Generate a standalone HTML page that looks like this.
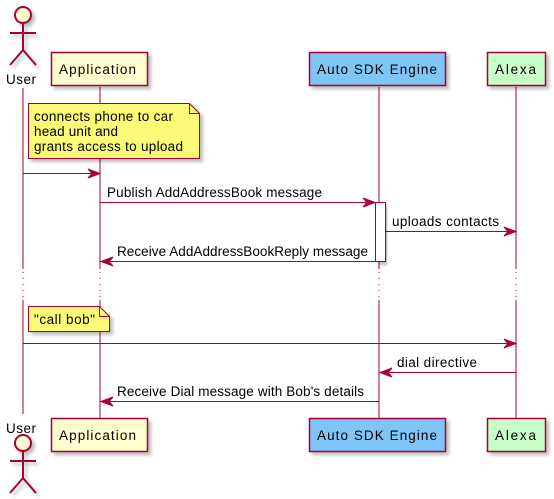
<!DOCTYPE html>
<html><head><style>body{margin:0;background:#fff}svg{display:block}text{font-family:"Liberation Sans",sans-serif;font-size:13.5px;fill:#000}</style></head>
<body>
<svg width="554" height="499" viewBox="0 0 554 499" xmlns="http://www.w3.org/2000/svg">
<defs>
<filter id="sh" x="-10%" y="-10%" width="130%" height="140%"><feDropShadow dx="3" dy="3" stdDeviation="1.5" flood-color="#000" flood-opacity="0.25"/></filter>
</defs>
<g stroke="#A80036" stroke-width="1">
<line x1="23" y1="88" x2="23" y2="269"/><line x1="23" y1="300" x2="23" y2="414" />
<line x1="100" y1="87" x2="100" y2="269"/><line x1="100" y1="300" x2="100" y2="418"/>
<line x1="379" y1="87" x2="379" y2="269"/><line x1="379" y1="300" x2="379" y2="418"/>
<line x1="516" y1="87" x2="516" y2="269"/><line x1="516" y1="300" x2="516" y2="418"/>
<g stroke-dasharray="1,5"><line x1="23" y1="272" x2="23" y2="300"/><line x1="100" y1="272" x2="100" y2="300"/><line x1="379" y1="272" x2="379" y2="300"/><line x1="516" y1="272" x2="516" y2="300"/></g>
</g>
<g stroke="#A80036" stroke-width="2" fill="#FEFECE" filter="url(#sh)">
<circle cx="23" cy="15" r="8"/><line x1="23" y1="23" x2="23" y2="50"/><line x1="10" y1="33" x2="36" y2="33"/><polyline fill="none" points="10,65 23,50 36,65"/>
<circle cx="23" cy="443" r="8"/><line x1="23" y1="451" x2="23" y2="478"/><line x1="10" y1="461" x2="36" y2="461"/><polyline fill="none" points="10,493 23,478 36,493"/>
</g>
<text x="6" y="84" textLength="30">User</text><text x="6" y="433" textLength="30">User</text>
<g stroke="#A80036" stroke-width="1.5" filter="url(#sh)">
<rect x="51.5" y="52.5" width="96" height="33" fill="#FEFECE"/>
<rect x="309.5" y="52.5" width="136" height="33" fill="#7FC5F5"/>
<rect x="487.5" y="52.5" width="58" height="33" fill="#C8FFC8"/>
<rect x="51.5" y="418.5" width="96" height="33" fill="#FEFECE"/>
<rect x="309.5" y="418.5" width="136" height="33" fill="#7FC5F5"/>
<rect x="487.5" y="418.5" width="58" height="33" fill="#C8FFC8"/>
</g>
<text x="59" y="74" textLength="77">Application</text><text x="317" y="74" textLength="120">Auto SDK Engine</text><text x="495" y="74" textLength="41">Alexa</text>
<text x="59" y="440" textLength="77">Application</text><text x="317" y="440" textLength="120">Auto SDK Engine</text><text x="495" y="440" textLength="41">Alexa</text>
<g stroke="#A80036" stroke-width="1" fill="#FBFB77">
<path d="M28.5 103.5 H189.5 L199.5 113.5 V158.5 H28.5 Z" filter="url(#sh)"/>
<path d="M189.5 103.5 V113.5 H199.5" fill="none"/>
<path d="M28.5 306.5 H99.5 L109.5 316.5 V331.5 H28.5 Z" filter="url(#sh)"/>
<path d="M99.5 306.5 V316.5 H109.5" fill="none"/>
</g>
<text x="34" y="121" textLength="139">connects phone to car</text><text x="34" y="136" textLength="84">head unit and</text><text x="34" y="151" textLength="149">grants access to upload</text>
<text x="34" y="324" textLength="61">"call bob"</text>
<rect x="375.5" y="202.5" width="10" height="59" fill="#fff" stroke="#A80036" filter="url(#sh)"/>
<g stroke="#A80036" stroke-width="1" fill="#A80036">
<line x1="23" y1="173.5" x2="98" y2="173.5"/><path d="M100 173.5 L88 169 L92 173.5 L88 178 Z"/>
<line x1="100" y1="202.5" x2="373" y2="202.5"/><path d="M375 202.5 L363 198 L367 202.5 L363 207 Z"/>
<line x1="386" y1="231.5" x2="514" y2="231.5"/><path d="M516 231.5 L504 227 L508 231.5 L504 236 Z"/>
<line x1="102" y1="261.5" x2="375" y2="261.5"/><path d="M101 261.5 L113 257 L109 261.5 L113 266 Z"/>
<line x1="23" y1="343.5" x2="514" y2="343.5"/><path d="M516 343.5 L504 339 L508 343.5 L504 348 Z"/>
<line x1="381" y1="372.5" x2="516" y2="372.5"/><path d="M380 372.5 L392 368 L388 372.5 L392 377 Z"/>
<line x1="102" y1="401.5" x2="379" y2="401.5"/><path d="M101 401.5 L113 397 L109 401.5 L113 406 Z"/>
</g>
<text x="107" y="197" textLength="215">Publish AddAddressBook message</text>
<text x="392" y="226" textLength="107">uploads contacts</text>
<text x="117" y="256" textLength="251">Receive AddAddressBookReply message</text>
<text x="397" y="367" textLength="80">dial directive</text>
<text x="117" y="396" textLength="247">Receive Dial message with Bob's details</text>
</svg>
</body></html>
